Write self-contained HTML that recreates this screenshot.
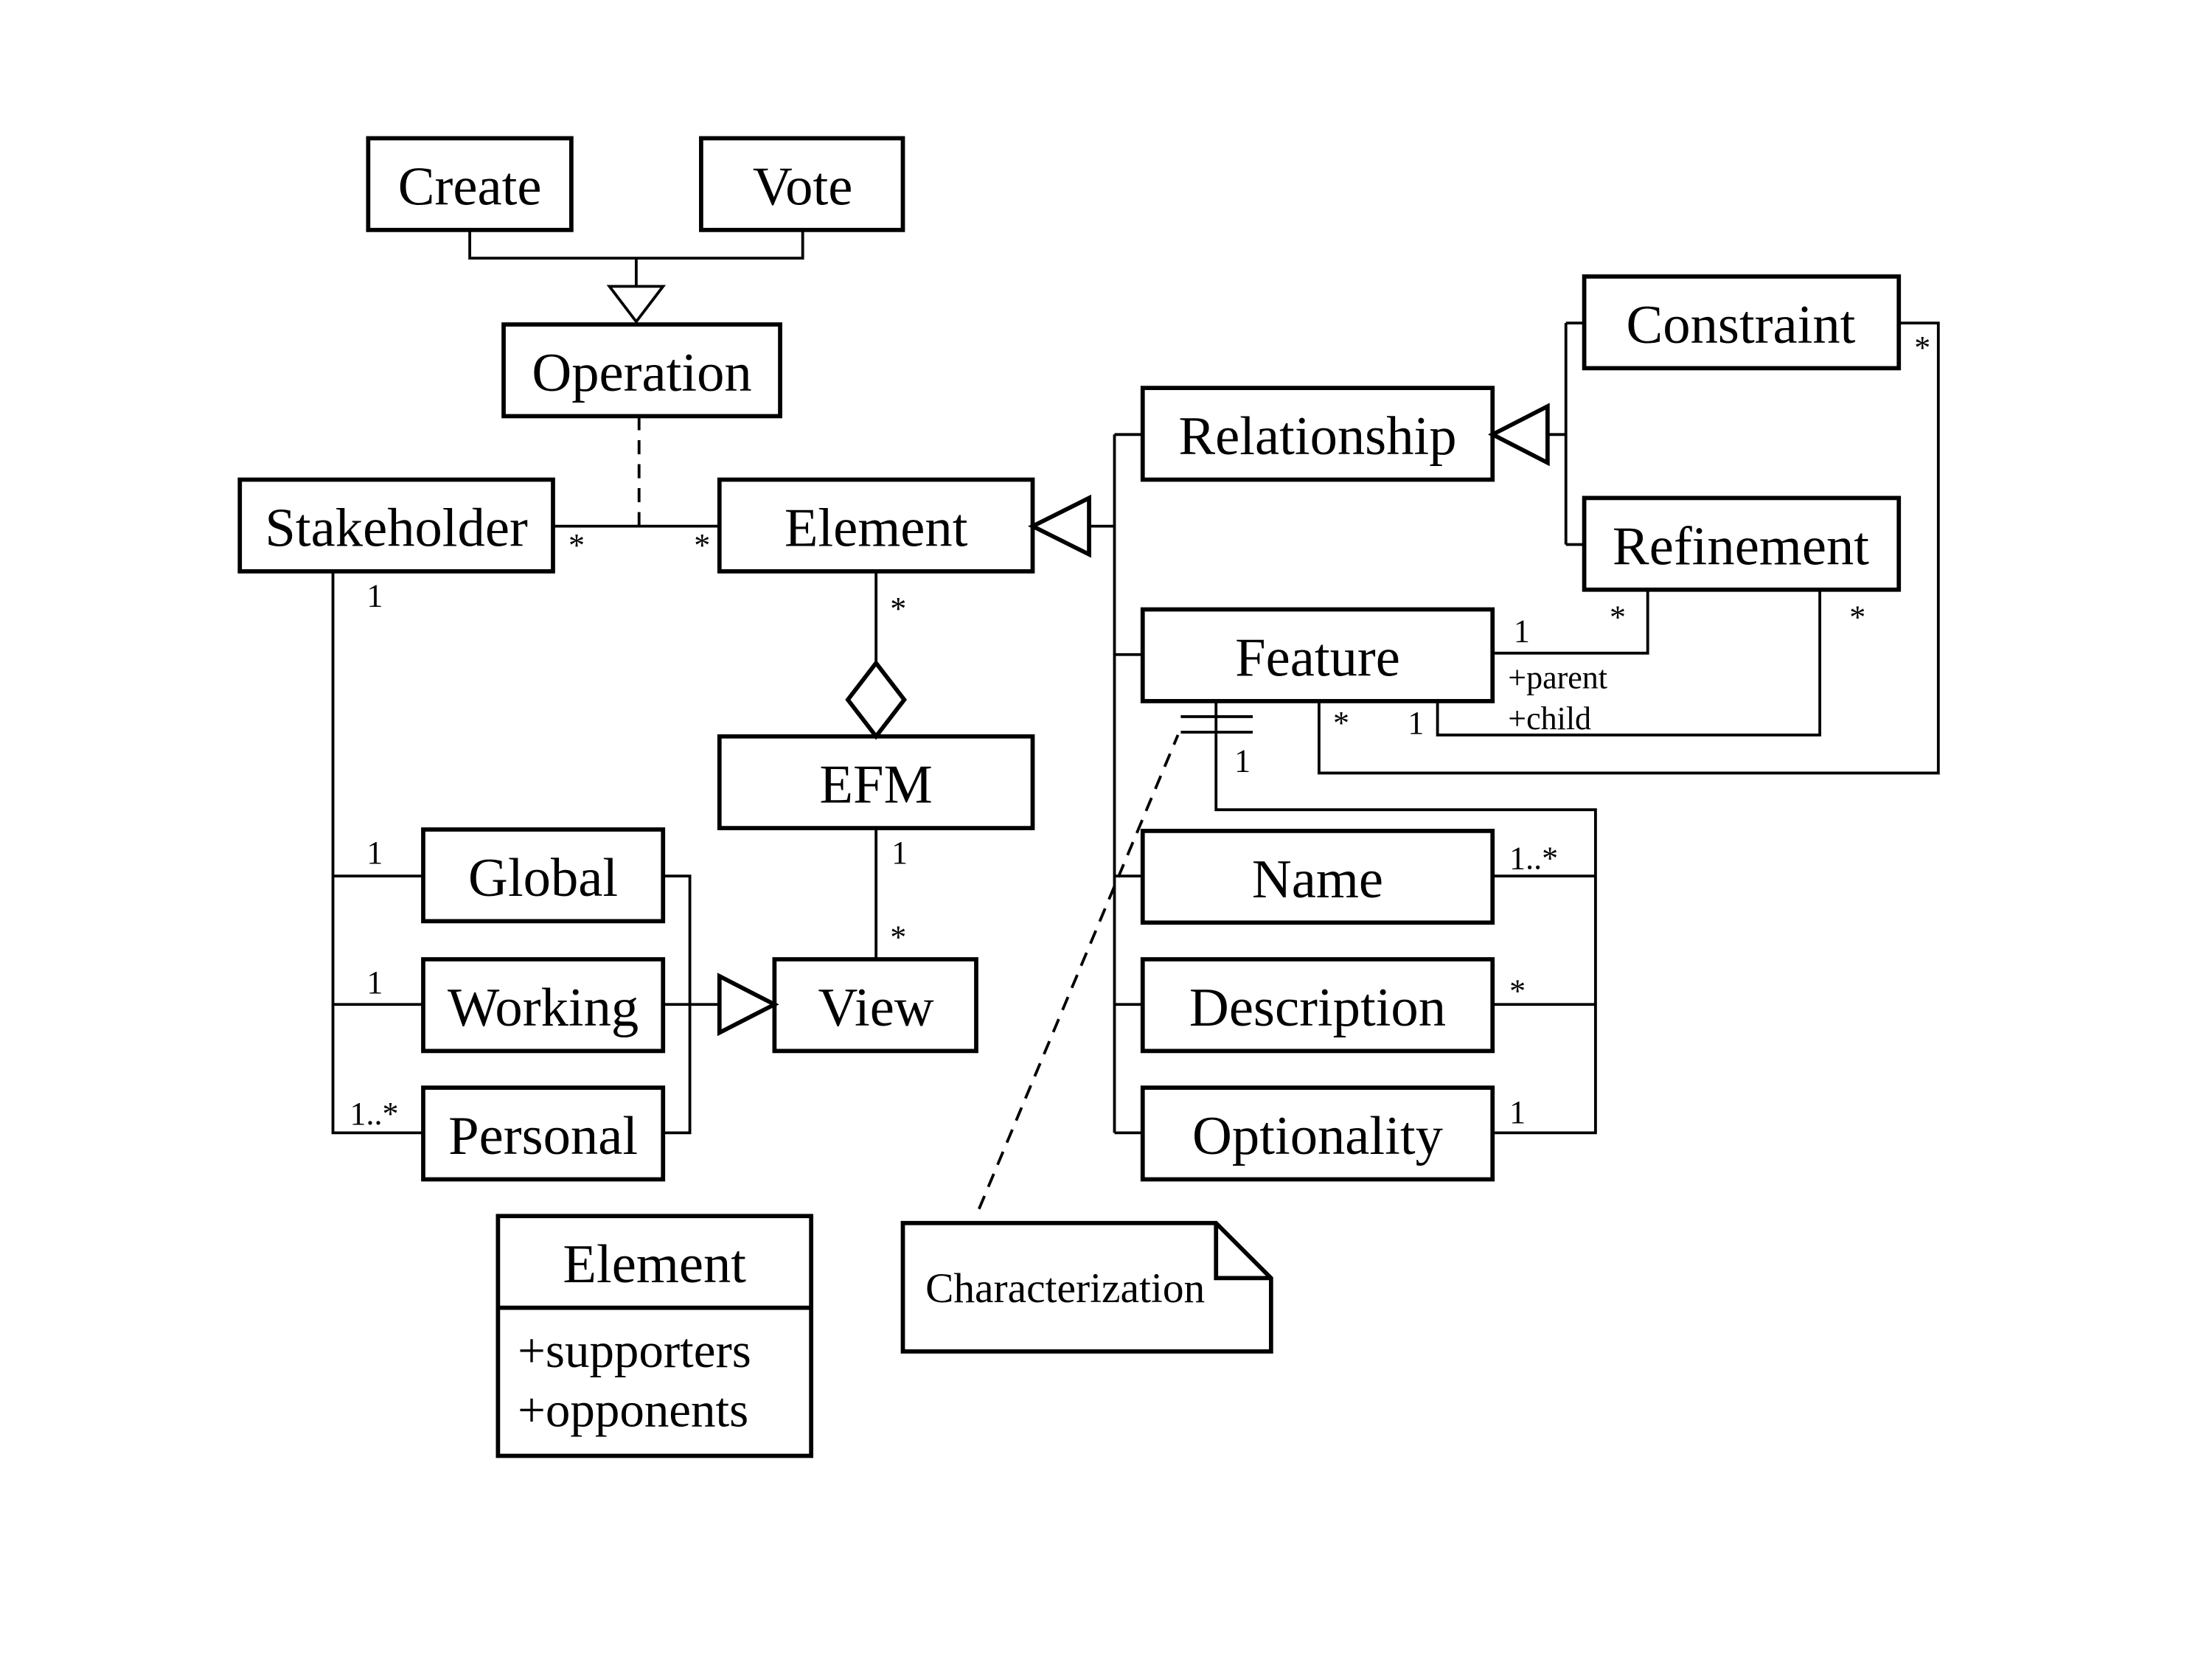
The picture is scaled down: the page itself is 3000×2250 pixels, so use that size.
<!DOCTYPE html>
<html><head><meta charset="utf-8"><style>
html,body{margin:0;padding:0;background:#fff;}
svg{display:block;}
text{font-family:"Liberation Serif",serif;fill:#000;}
.b{font-size:39px;text-anchor:middle;}
.s{font-size:23px;}
</style></head><body>
<svg width="3000" height="2250" viewBox="0 0 1568 1176" xmlns="http://www.w3.org/2000/svg">
<rect width="1568" height="1176" fill="#fff"/>
<g fill="none" stroke="#000" stroke-width="3">
<rect x="261" y="98" width="144" height="65"/>
<rect x="497" y="98" width="143" height="65"/>
<rect x="357" y="230" width="196" height="65"/>
<rect x="170" y="340" width="222" height="65"/>
<rect x="510" y="340" width="222" height="65"/>
<rect x="510" y="522" width="222" height="65"/>
<rect x="300" y="588" width="170" height="65"/>
<rect x="300" y="680" width="170" height="65"/>
<rect x="300" y="771" width="170" height="65"/>
<rect x="549" y="680" width="143" height="65"/>
<rect x="810" y="275" width="248" height="65"/>
<rect x="1123" y="196" width="223" height="65"/>
<rect x="1123" y="353" width="223" height="65"/>
<rect x="810" y="432" width="248" height="65"/>
<rect x="810" y="589" width="248" height="65"/>
<rect x="810" y="680" width="248" height="65"/>
<rect x="810" y="771" width="248" height="65"/>
<rect x="353" y="862" width="222" height="170"/>
<line x1="353" y1="927" x2="575" y2="927"/>
<path d="M640 867 H862 L901 906 V958 H640 Z"/>
<path d="M862 867 V906 H901"/>
</g>
<g fill="none" stroke="#000" stroke-width="2">
<path d="M333 163 V183 H569 V163"/>
<path d="M451 183 V203"/>
<path d="M432 203 H470 L451 228 Z"/>
<path d="M453 295 V373" stroke-dasharray="10,7"/>
<path d="M392 373 H510"/>
<path d="M621 405 V470"/>
<path d="M621 470 L641 496 L621 522 L601 496 Z" stroke-width="3"/>
<path d="M621 587 V680"/>
<path d="M236 405 V803 H300 M236 621 H300 M236 712 H300"/>
<path d="M470 621 H489 V803 H470 M470 712 H510"/>
<path d="M510 692 L549 712 L510 732 Z" stroke-width="3"/>
<path d="M732 373 L772 353 V393 Z" stroke-width="3"/>
<path d="M772 373 H790 M790 308 V803 M790 308 H810 M790 464 H810 M790 621 H810 M790 712 H810 M790 803 H810"/>
<path d="M1058 308 L1097 288 V328 Z" stroke-width="3"/>
<path d="M1097 308 H1110 M1110 229 V386 M1110 229 H1123 M1110 386 H1123"/>
<path d="M1058 463 H1168 V418"/>
<path d="M1019 497 V521 H1290 V418"/>
<path d="M935 497 V548 H1374 V229 H1346"/>
<path d="M862 497 V574 H1131 V803 H1058 M1058 621 H1131 M1058 712 H1131"/>
<path d="M837 508 H888 M837 519 H888"/>
<path d="M694 857 L835 521" stroke-dasharray="10,7"/>
</g>
<text class="b" x="333" y="145">Create</text>
<text class="b" x="569" y="145">Vote</text>
<text class="b" x="455" y="277">Operation</text>
<text class="b" x="281" y="387">Stakeholder</text>
<text class="b" x="621" y="387">Element</text>
<text class="b" x="621" y="569">EFM</text>
<text class="b" x="385" y="635">Global</text>
<text class="b" x="385" y="727">Working</text>
<text class="b" x="385" y="818">Personal</text>
<text class="b" x="621" y="727">View</text>
<text class="b" x="934" y="322">Relationship</text>
<text class="b" x="1234" y="243">Constraint</text>
<text class="b" x="1234" y="400">Refinement</text>
<text class="b" x="934" y="479">Feature</text>
<text class="b" x="934" y="636">Name</text>
<text class="b" x="934" y="727">Description</text>
<text class="b" x="934" y="818">Optionality</text>
<text class="b" x="464" y="909">Element</text>
<text x="367" y="969" style="font-size:35px">+supporters</text>
<text x="367" y="1011" style="font-size:35px">+opponents</text>
<text x="656" y="923" style="font-size:30px">Characterization</text>
<g class="s">
<text x="403" y="394">*</text>
<text x="492" y="394">*</text>
<text x="260" y="430">1</text>
<text x="631" y="439">*</text>
<text x="632" y="612">1</text>
<text x="631" y="672">*</text>
<text x="260" y="612">1</text>
<text x="260" y="704">1</text>
<text x="248" y="797">1..*</text>
<text x="1073" y="455">1</text>
<text x="1141" y="445">*</text>
<text x="1069" y="488">+parent</text>
<text x="998" y="520">1</text>
<text x="1069" y="517">+child</text>
<text x="1311" y="445">*</text>
<text x="945" y="520">*</text>
<text x="1357" y="254">*</text>
<text x="875" y="547">1</text>
<text x="1070" y="616">1..*</text>
<text x="1070" y="710">*</text>
<text x="1070" y="796">1</text>
</g>
</svg>
</body></html>
